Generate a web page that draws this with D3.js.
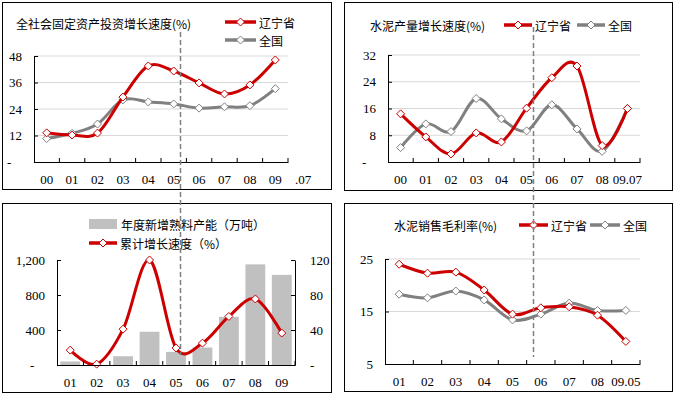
<!DOCTYPE html>
<html>
<head>
<meta charset="utf-8">
<script src="https://cdn.jsdelivr.net/npm/d3@7"></script>
<style>
    body { margin: 0; background: #fff; }
    svg { display: block; }
</style>
</head>
<body>
<svg id="chart" width="674" height="394"></svg>
<script>
// Fixed asset investment growth (%)
var invYears = ["00", "01", "02", "03", "04", "05", "06", "07", "08", "09"];
var invLiaoning = [13.2, 12.2, 13.1, 29.4, 43.5, 41.2, 35.8, 30.8, 34.9, 46.2];
var invNational = [10.6, 13.0, 17.2, 28.1, 27.2, 26.3, 24.4, 25.0, 25.5, 33.2];
var invTicks = [0, 12, 24, 36, 48];

// Cement output growth (%)
var cemYears = ["00", "01", "02", "03", "04", "05", "06", "07", "08", "09.07"];
var cemLiaoning = [14.4, 7.5, 2.4, 8.7, 6.0, 16.1, 25.2, 28.7, 4.9, 16.0];
var cemNational = [4.3, 11.4, 9.1, 19.0, 12.9, 9.3, 17.1, 9.9, 3.2, 16.0];
var cemTicks = [0, 8, 16, 24, 32];

// New clinker capacity (10k t) and cumulative growth (%)
var capYears = ["01", "02", "03", "04", "05", "06", "07", "08", "09"];
var capAdded = [40, 0, 100, 380, 150, 200, 550, 1150, 1030];
var capGrowth = [17, 1, 41, 120, 19.5, 25, 55.5, 75.5, 36.5];
var capTicksLeft = [0, 400, 800, 1200];
var capTicksRight = [0, 40, 80, 120];

// Cement gross margin (%)
var marYears = ["01", "02", "03", "04", "05", "06", "07", "08", "09.05"];
var marLiaoning = [24.0, 22.3, 22.5, 19.1, 14.5, 15.7, 15.9, 14.3, 9.3];
var marNational = [18.3, 17.6, 18.9, 17.2, 13.4, 14.5, 16.6, 15.2, 15.2];
var marTicks = [5, 15, 25];

var RED = "#cc0000";
var GRAY = "#808080";
var CJK_FONT = "'Noto Sans CJK SC', sans-serif";
var NUM_FONT = "'Liberation Serif', 'Times New Roman', serif";

var svg = d3.select("#chart");

// Panel borders
[[2.5, 2.5, 329, 187], [344.5, 2.5, 328, 188], [2.5, 203.5, 329, 189], [344.5, 203.5, 328, 188]].forEach(function(b) {
    svg.append("rect")
        .attr("x", b[0]).attr("y", b[1])
        .attr("width", b[2]).attr("height", b[3])
        .attr("fill", "none").attr("stroke", "#000").attr("stroke-width", 1);
});

function numText(sel)
{
    sel.attr("font-family", NUM_FONT).attr("font-size", 13).attr("fill", "#000");
}

function cjkText(x, y, label)
{
    svg.append("text")
        .attr("x", x).attr("y", y)
        .attr("font-family", CJK_FONT).attr("font-size", 12).attr("fill", "#000")
        .attr("dominant-baseline", "central")
        .text(label);
}

function diamond(g, x, y, color)
{
    g.append("path")
        .attr("d", "M" + x + "," + (y - 4) + "L" + (x + 4) + "," + y + "L" + x + "," + (y + 4) + "L" + (x - 4) + "," + y + "Z")
        .attr("fill", "#fff").attr("stroke", color).attr("stroke-width", 1);
}

function legendLine(x0, x1, y, color, label)
{
    svg.append("line")
        .attr("x1", x0).attr("x2", x1).attr("y1", y).attr("y2", y)
        .attr("stroke", color).attr("stroke-width", 3.5);
    diamond(svg, (x0 + x1) / 2, y, color);
    cjkText(x1 + 3, y, label);
}

// Draws category x axis with inside boundary ticks and labels
function xAxis(x, y0, extraLabel)
{
    var g = svg.append("g").attr("transform", "translate(0," + y0 + ")");
    g.call(d3.axisBottom(x).tickSize(0).tickPadding(13));
    g.select(".domain").attr("stroke", "#000");
    g.selectAll("text").call(numText);
    x.domain().slice(1).concat([null]).forEach(function(d) {
        var px = d === null ? x.range()[1] : x(d);
        g.append("line")
            .attr("x1", px).attr("x2", px).attr("y1", 0).attr("y2", -4)
            .attr("stroke", "#000");
    });
    if (extraLabel)
    {
        g.append("text")
            .attr("x", x.range()[1] + x.step() * 0.6).attr("y", 13).attr("dy", "0.71em")
            .attr("text-anchor", "middle")
            .call(numText)
            .text(extraLabel);
    }
}

// Draws value axis, gridlines and the accounting style zero dash
function yAxis(y, x0, ticks, fmt, dashOffset, right, gridTo)
{
    if (gridTo !== null)
    {
        ticks.forEach(function(t) {
            if (t === y.domain()[0]) return;
            svg.append("line")
                .attr("x1", x0).attr("x2", gridTo)
                .attr("y1", y(t)).attr("y2", y(t))
                .attr("stroke", "#d9d9d9").attr("stroke-width", 1);
        });
    }
    var axis = (right ? d3.axisRight(y) : d3.axisLeft(y))
        .tickValues(ticks).tickSizeInner(-4).tickSizeOuter(0).tickPadding(right ? 15 : 12)
        .tickFormat(function(d) { return d === 0 ? "-" : fmt(d); });
    var g = svg.append("g").attr("transform", "translate(" + x0 + ",0)").call(axis);
    g.select(".domain").attr("stroke", "#000");
    g.selectAll("text").call(numText);
    g.selectAll(".tick").filter(function(d) { return d === 0; }).select("text")
        .attr("x", dashOffset).attr("text-anchor", "start");
}

function seriesLine(x, y, cats, vals, color)
{
    var line = d3.line()
        .x(function(d, i) { return x(cats[i]) + x.bandwidth() / 2; })
        .y(function(d) { return y(d); })
        .curve(d3.curveCatmullRom.alpha(0));
    svg.append("path")
        .attr("d", line(vals))
        .attr("fill", "none").attr("stroke", color).attr("stroke-width", 3)
        .attr("stroke-linejoin", "round");
    vals.forEach(function(v, i) {
        diamond(svg, x(cats[i]) + x.bandwidth() / 2, y(v), color);
    });
}

var fmtInt = d3.format(",");

// ---- Panel 1: fixed asset investment ----
var x1 = d3.scaleBand().domain(invYears).range([34, 288]);
var y1 = d3.scaleLinear().domain([0, 48]).range([162, 56]);
yAxis(y1, 34, invTicks, fmtInt, -27, false, 288);
seriesLine(x1, y1, invYears, invNational, GRAY);
seriesLine(x1, y1, invYears, invLiaoning, RED);
xAxis(x1, 162, ".07");
cjkText(16, 23, "全社会固定资产投资增长速度(%)");
legendLine(225, 256, 22, RED, "辽宁省");
legendLine(225, 256, 40, GRAY, "全国");

// ---- Panel 2: cement output ----
var x2 = d3.scaleBand().domain(cemYears).range([388, 640]);
var y2 = d3.scaleLinear().domain([0, 32]).range([162, 55]);
yAxis(y2, 388, cemTicks, fmtInt, -26, false, 640);
seriesLine(x2, y2, cemYears, cemNational, GRAY);
seriesLine(x2, y2, cemYears, cemLiaoning, RED);
xAxis(x2, 162, null);
cjkText(370, 25, "水泥产量增长速度(%)");
legendLine(504, 532, 25, RED, "辽宁省");
legendLine(577, 605, 25, GRAY, "全国");

// ---- Panel 3: new clinker capacity ----
var x3 = d3.scaleBand().domain(capYears).range([57, 295]);
var y3 = d3.scaleLinear().domain([0, 1200]).range([365, 260]);
var y3r = d3.scaleLinear().domain([0, 120]).range([365, 260]);
var barW = x3.bandwidth() * 0.75;
svg.append("g").selectAll("rect")
    .data(capAdded)
    .join("rect")
    .attr("x", function(d, i) { return x3(capYears[i]) + (x3.bandwidth() - barW) / 2; })
    .attr("y", function(d) { return y3(d); })
    .attr("width", barW)
    .attr("height", function(d) { return y3(0) - y3(d); })
    .attr("fill", "#c0c0c0");
yAxis(y3, 57, capTicksLeft, fmtInt, -27, false, null);
yAxis(y3r, 295, capTicksRight, fmtInt, 15, true, null);
seriesLine(x3, y3r, capYears, capGrowth, RED);
xAxis(x3, 365, null);
svg.append("rect")
    .attr("x", 89).attr("y", 219).attr("width", 28).attr("height", 10)
    .attr("fill", "#c0c0c0");
cjkText(121, 224, "年度新增熟料产能（万吨）");
legendLine(89, 117, 243, RED, "累计增长速度（%）");

// ---- Panel 4: gross margin ----
var x4 = d3.scaleBand().domain(marYears).range([385, 640]);
var y4 = d3.scaleLinear().domain([5, 25]).range([364, 259]);
yAxis(y4, 385, marTicks, fmtInt, 0, false, 640);
seriesLine(x4, y4, marYears, marNational, GRAY);
seriesLine(x4, y4, marYears, marLiaoning, RED);
xAxis(x4, 364, null);
cjkText(394, 225, "水泥销售毛利率(%)");
legendLine(519, 548, 225, RED, "辽宁省");
legendLine(590, 620, 225, GRAY, "全国");

// Dashed separators
[[180.5, 32, 355], [533.5, 27, 357]].forEach(function(d) {
    svg.append("line")
        .attr("x1", d[0]).attr("x2", d[0]).attr("y1", d[1]).attr("y2", d[2])
        .attr("stroke", GRAY).attr("stroke-width", 1.5)
        .attr("stroke-dasharray", "5,3");
});
</script>
</body>
</html>
